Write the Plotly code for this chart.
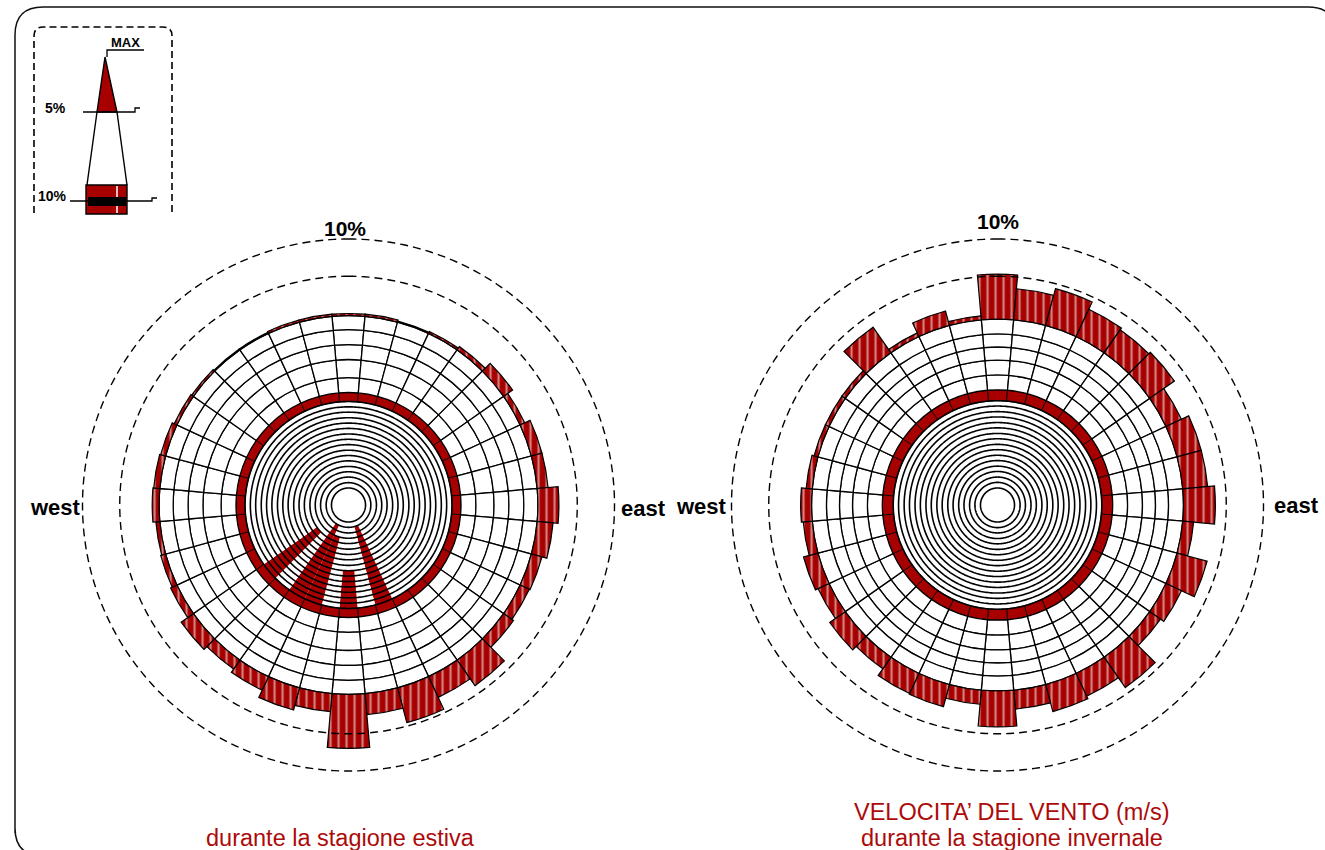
import numpy as np
import plotly.graph_objects as go

W, H = 1325, 850
RED = "#a60000"
TXT_RED = "#ad0a0a"

# ---------------------------------------------------------------- data (%)
directions = list(range(0, 360, 10))

# summer season (estiva)
summer_core = 0.64
summer_inner = [0.20, 0.21, 0.20, 0.20, 0.21, 0.20, 0.20, 0.21,
                0.20, 0.20, 0.21, 0.20, 0.20, 0.21, 0.20, 0.20]
summer_band = 0.34
summer_outer = [0.56, 0.68, 0.56, 0.56, 0.53]
summer_peak = [0.08, 0.08, 0.04, 0.08, 0.15, 0.41, 0.19, 0.41, 0.41,
               0.79, 0.60, 0.41, 0.38, 0.45, 1.17, 0.86, 1.35, 0.79,
               2.03, 0.68, 0.86, 0.56, 0.41, 0.56, 0.26, 0.19, 0.15,
               0.26, 0.23, 0.19, 0.11, 0.08, 0.04, 0.04, 0.08, 0.08]
summer_red_dirs = [160, 180, 200, 210, 230]
summer_red_from = [2, 10, 4, 2, 5]

# winter season (invernale)
winter_core = 0.64
winter_inner = [0.21, 0.20, 0.21, 0.20, 0.21, 0.20, 0.21, 0.20,
                0.21, 0.20, 0.21, 0.20, 0.21, 0.20, 0.21, 0.20]
winter_band = 0.41
winter_outer = [0.56, 0.56, 0.49, 0.49, 0.56]
winter_peak = [1.69, 1.17, 1.43, 1.13, 1.05, 1.13, 0.64, 0.94, 0.94,
               1.20, 0.41, 1.17, 0.64, 0.49, 1.39, 0.94, 1.05, 0.71,
               1.35, 0.53, 0.86, 0.83, 0.53, 0.71, 0.45, 0.56, 0.34,
               0.41, 0.23, 0.15, 0.15, 0.15, 1.17, 0.15, 0.56, 0.15]
winter_red_dirs = []
winter_red_from = []

ref_circles = [8.6, 10.0]

# ---------------------------------------------------------------- geometry
PX_PER_PCT = 26.6
R_MAX = 10.75
R_PX = R_MAX * PX_PER_PCT


def px(x):
    return x / W


def py(y):
    return 1 - y / H


def domain(cx, cy):
    return dict(x=[(cx - R_PX) / W, (cx + R_PX) / W],
                y=[(H - cy - R_PX) / H, (H - cy + R_PX) / H])


fig = go.Figure()
circle_theta = np.arange(0, 361, 1)


def add_rose(sub, core, inner, band, outer, peak, red_dirs, red_from):
    n = len(directions)
    widths = [10] * n

    for rr in ref_circles:
        fig.add_trace(go.Scatterpolar(
            r=[rr] * len(circle_theta), theta=circle_theta, mode="lines",
            line=dict(color="black", width=1.4, dash="8px,5px"),
            subplot=sub, hoverinfo="skip", showlegend=False))

    classes = [core] + inner
    for k, v in enumerate(classes):
        colors = []
        for d in directions:
            hot = d in red_dirs and k >= red_from[red_dirs.index(d)]
            colors.append(RED if hot else "white")
        fig.add_trace(go.Barpolar(
            r=[v] * n, theta=directions, width=widths,
            marker=dict(color=colors, line=dict(width=0)),
            subplot=sub, hoverinfo="skip", showlegend=False))

    fig.add_trace(go.Barpolar(
        r=[band] * n, theta=directions, width=widths,
        marker=dict(color=RED, line=dict(color="black", width=0.8)),
        subplot=sub, hoverinfo="skip", showlegend=False))

    for v in outer:
        fig.add_trace(go.Barpolar(
            r=[v] * n, theta=directions, width=widths,
            marker=dict(color="white", line=dict(color="black", width=1.3)),
            subplot=sub, hoverinfo="skip", showlegend=False))

    fig.add_trace(go.Barpolar(
        r=peak, theta=directions, width=widths,
        marker=dict(color=RED, line=dict(color="black", width=1.2),
                    pattern=dict(shape="|", fillmode="overlay",
                                 fgcolor="white", size=8, solidity=0.28)),
        subplot=sub, hoverinfo="skip", showlegend=False))

    # concentric boundaries of the low-speed classes
    for b in np.cumsum(classes):
        fig.add_trace(go.Scatterpolar(
            r=[b] * len(circle_theta), theta=circle_theta, mode="lines",
            line=dict(color="black", width=1.6),
            subplot=sub, hoverinfo="skip", showlegend=False))


add_rose("polar", summer_core, summer_inner, summer_band, summer_outer,
         summer_peak, summer_red_dirs, summer_red_from)
add_rose("polar2", winter_core, winter_inner, winter_band, winter_outer,
         winter_peak, winter_red_dirs, winter_red_from)

polar_common = dict(
    bgcolor="rgba(0,0,0,0)", barmode="stack", bargap=0,
    radialaxis=dict(visible=False, range=[0, R_MAX]),
    angularaxis=dict(visible=False, rotation=90, direction="clockwise"),
)

# ---------------------------------------------------------------- decorations
shapes = []


def path(points, close=False):
    s = "M " + " L ".join(f"{px(x):.5f},{py(y):.5f}" for x, y in points)
    return s + (" Z" if close else "")


# outer frame with rounded corners
frame = (f"M {px(15)},{py(833)} L {px(15)},{py(35)} "
         f"Q {px(15)},{py(7)} {px(43)},{py(7)} L {px(1308)},{py(7)} "
         f"Q {px(1336)},{py(7)} {px(1336)},{py(35)} L {px(1336)},{py(828)} "
         f"Q {px(1336)},{py(856)} {px(1308)},{py(856)} L {px(43)},{py(856)} "
         f"Q {px(15)},{py(856)} {px(15)},{py(828)} Z")
shapes.append(dict(type="path", path=frame, xref="paper", yref="paper",
                   line=dict(color="#111", width=1.5)))

# legend box
box = (f"M {px(34)},{py(213)} L {px(34)},{py(36)} "
       f"Q {px(34)},{py(27)} {px(43)},{py(27)} L {px(163)},{py(27)} "
       f"Q {px(172)},{py(27)} {px(172)},{py(36)} L {px(172)},{py(213)}")
shapes.append(dict(type="path", path=box, xref="paper", yref="paper",
                   line=dict(color="black", width=1.6, dash="7px,4px")))
# red peak triangle
shapes.append(dict(type="path", path=path([(105, 57), (97, 112), (117, 112)], True),
                   xref="paper", yref="paper", fillcolor=RED,
                   line=dict(color="black", width=1.4)))
# outline of the mid section
shapes.append(dict(type="path", path=path([(97, 112), (87, 185)]),
                   xref="paper", yref="paper", line=dict(color="black", width=1.4)))
shapes.append(dict(type="path", path=path([(117, 112), (127, 185)]),
                   xref="paper", yref="paper", line=dict(color="black", width=1.4)))
# red base
shapes.append(dict(type="rect", x0=px(86), x1=px(127), y0=py(214), y1=py(185),
                   xref="paper", yref="paper", fillcolor=RED,
                   line=dict(color="black", width=1.4)))
shapes.append(dict(type="line", x0=px(117), x1=px(117), y0=py(213), y1=py(186),
                   xref="paper", yref="paper", line=dict(color="white", width=1.5)))
shapes.append(dict(type="rect", x0=px(88), x1=px(126), y0=py(206), y1=py(197),
                   xref="paper", yref="paper", fillcolor="black",
                   line=dict(width=0)))
# level lines
shapes.append(dict(type="path", path=path([(83, 112), (135, 112), (135, 108), (140, 108)]),
                   xref="paper", yref="paper", line=dict(color="black", width=1.3)))
shapes.append(dict(type="path", path=path([(70, 201), (152, 201), (152, 198), (157, 198)]),
                   xref="paper", yref="paper", line=dict(color="black", width=1.3)))
shapes.append(dict(type="path", path=path([(107, 57), (107, 50), (144, 50)]),
                   xref="paper", yref="paper", line=dict(color="black", width=1.3)))

annotations = []


def label(text, x, y, size, color="black", bold=False, font="Liberation Sans"):
    annotations.append(dict(
        text=f"<b>{text}</b>" if bold else text, x=px(x), y=py(y),
        xref="paper", yref="paper", showarrow=False,
        xanchor="center", yanchor="middle",
        font=dict(family=font, size=size, color=color)))


label("MAX", 125, 43, 13, bold=True)
label("5%", 55, 108, 14, bold=True)
label("10%", 52, 196, 14, bold=True)

label("10%", 345, 228, 21, bold=True)
label("10%", 998, 221, 21, bold=True)
label("west", 55, 507, 22, bold=True)
label("east", 643, 508, 22, bold=True)
label("west", 702, 506, 22, bold=True)
label("east", 1296, 505, 22, bold=True)

label("durante la stagione estiva", 341, 838, 23.5, color=TXT_RED)
label("VELOCITA’ DEL VENTO (m/s)", 1012, 812, 23.5, color=TXT_RED)
label("durante la stagione invernale", 1012, 838, 23.5, color=TXT_RED)

fig.update_layout(
    width=W, height=H,
    margin=dict(l=0, r=0, t=0, b=0),
    paper_bgcolor="white",
    showlegend=False,
    polar=dict(domain=domain(348.5, 505), **polar_common),
    polar2=dict(domain=domain(997.5, 505), **polar_common),
    shapes=shapes,
    annotations=annotations,
)

fig.write_html("out.html")
